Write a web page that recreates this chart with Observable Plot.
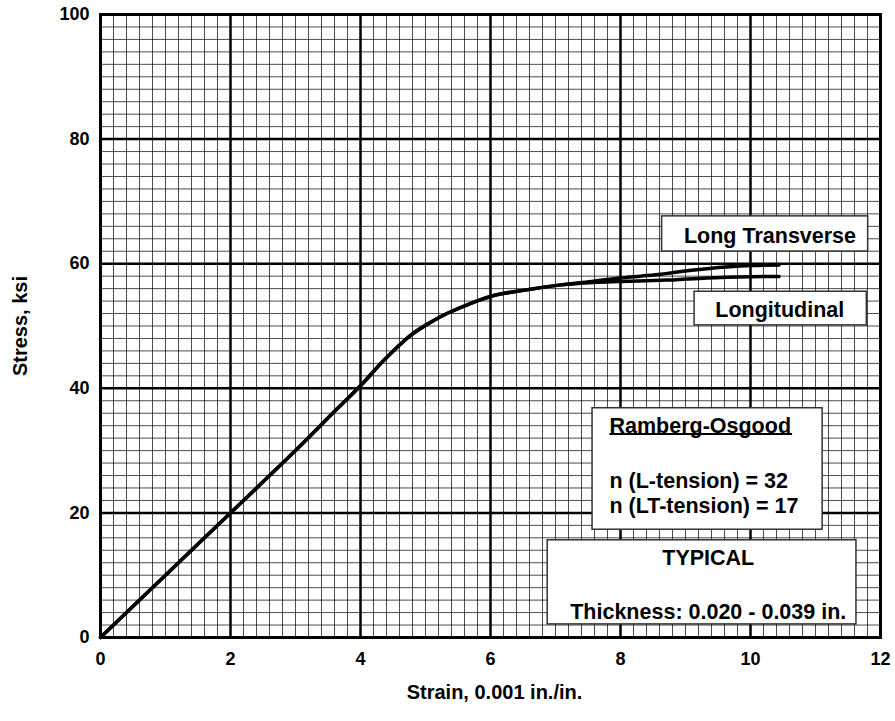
<!DOCTYPE html>
<html>
<head>
<meta charset="utf-8">
<script src="https://cdn.jsdelivr.net/npm/d3@7"></script>
<script src="https://cdn.jsdelivr.net/npm/@observablehq/plot@0.6"></script>
<style>
  html, body { margin: 0; padding: 0; background: #fff; }
  svg { font-family: "Liberation Sans", Arial, sans-serif; font-weight: bold; }
</style>
</head>
<body>
<div id="chart"></div>
<script>
// ---- data ----
const xTicks = [0, 2, 4, 6, 8, 10, 12];
const yTicks = [0, 20, 40, 60, 80, 100];

// Long Transverse curve (strain, stress)
const ltStrain = [0, 1, 2, 3, 3.64, 4, 4.36, 4.77, 5.08, 5.33, 5.69, 6.05, 6.56, 7.08, 7.59, 8, 8.31, 8.62, 8.82, 9.33, 10, 10.44];
const ltStress = [0, 10, 20, 30, 36.7, 40.4, 44.5, 48.5, 50.6, 52.0, 53.6, 54.9, 55.8, 56.6, 57.2, 57.7, 58.0, 58.3, 58.6, 59.2, 59.7, 59.8];

// Longitudinal curve
const lStrain = [0, 1, 2, 3, 3.64, 4, 4.36, 4.77, 5.08, 5.33, 5.69, 6.05, 6.56, 7.08, 7.59, 8, 8.62, 8.82, 9.33, 10, 10.44];
const lStress = [0, 10, 20, 30, 36.7, 40.4, 44.5, 48.5, 50.6, 52.0, 53.6, 54.9, 55.8, 56.6, 57.0, 57.15, 57.35, 57.4, 57.7, 57.9, 57.95];

// annotation boxes and labels
const boxes = [
  {x1: 8.64, x2: 11.81, y1: 61.95, y2: 67.6},
  {x1: 9.14, x2: 11.79, y1: 50.1, y2: 55.5},
  {x1: 7.57, x2: 11.11, y1: 17.3, y2: 36.8},
  {x1: 6.88, x2: 11.63, y1: 2.1, y2: 15.6}
];
const centeredLabels = [
  {x: 10.30, y: 64.4, text: "Long Transverse"},
  {x: 10.45, y: 52.5, text: "Longitudinal"},
  {x: 9.35, y: 12.8, text: "TYPICAL"},
  {x: 9.35, y: 4.1, text: "Thickness: 0.020 - 0.039 in."}
];
const leftLabels = [
  {x: 7.83, y: 34.0, text: "Ramberg-Osgood"},
  {x: 7.83, y: 25.15, text: "n (L-tension) = 32"},
  {x: 7.83, y: 21.1, text: "n (LT-tension) = 17"}
];
const underline = [{x1: 7.83, x2: 10.64, y: 32.65}];

const xTitle = "Strain, 0.001 in./in.";
const yTitle = "Stress, ksi";

// ---- build ----
const lt = ltStrain.map((x, i) => ({x, y: ltStress[i]}));
const lo = lStrain.map((x, i) => ({x, y: lStress[i]}));
const minorX = d3.range(0, 12.001, 0.2).map(v => +v.toFixed(2));
const minorY = d3.range(0, 100.001, 2);

const font = "Liberation Sans, Arial, sans-serif";

const chart = Plot.plot({
  width: 895,
  height: 721,
  marginLeft: 100,
  marginRight: 15,
  marginTop: 14,
  marginBottom: 84,
  style: {fontFamily: font, fontWeight: "bold", background: "#fff"},
  x: {domain: [0, 12]},
  y: {domain: [0, 100]},
  marks: [
    Plot.ruleX(minorX, {stroke: "#000", strokeOpacity: 0.7, strokeWidth: 1}),
    Plot.ruleY(minorY, {stroke: "#000", strokeOpacity: 0.7, strokeWidth: 1}),
    Plot.ruleX(xTicks, {stroke: "#000", strokeWidth: 2.5}),
    Plot.ruleY(yTicks, {stroke: "#000", strokeWidth: 2.5}),
    Plot.line(lt, {x: "x", y: "y", stroke: "#000", strokeWidth: 3.5, curve: "catmull-rom"}),
    Plot.line(lo, {x: "x", y: "y", stroke: "#000", strokeWidth: 3.5, curve: "catmull-rom"}),
    Plot.rect(boxes, {x1: "x1", x2: "x2", y1: "y1", y2: "y2", fill: "#fff", stroke: "#333", strokeWidth: 1.5}),
    Plot.text(centeredLabels, {x: "x", y: "y", text: "text", fontSize: 21.5, fontWeight: "bold", fill: "#000", textAnchor: "middle", lineAnchor: "middle"}),
    Plot.text(leftLabels, {x: "x", y: "y", text: "text", fontSize: 21.5, fontWeight: "bold", fill: "#000", textAnchor: "start", lineAnchor: "middle"}),
    Plot.link(underline, {x1: "x1", x2: "x2", y1: "y", y2: "y", stroke: "#000", strokeWidth: 2}),
    Plot.frame({stroke: "#000", strokeWidth: 3}),
    Plot.axisX({ticks: xTicks, tickSize: 0, tickPadding: 15, fontSize: 18, fontWeight: "bold", label: null, tickFormat: d => d}),
    Plot.axisY({ticks: yTicks, tickSize: 0, tickPadding: 11, fontSize: 18, fontWeight: "bold", label: null, tickFormat: d => d}),
    Plot.text([xTitle], {frameAnchor: "bottom", dx: 4, dy: 55, fontSize: 20, fontWeight: "bold", fill: "#000", textAnchor: "middle", lineAnchor: "middle"}),
    Plot.text([yTitle], {frameAnchor: "left", dx: -80, rotate: -90, fontSize: 20, fontWeight: "bold", fill: "#000", textAnchor: "middle", lineAnchor: "middle"})
  ]
});

document.getElementById("chart").appendChild(chart);
</script>
</body>
</html>
